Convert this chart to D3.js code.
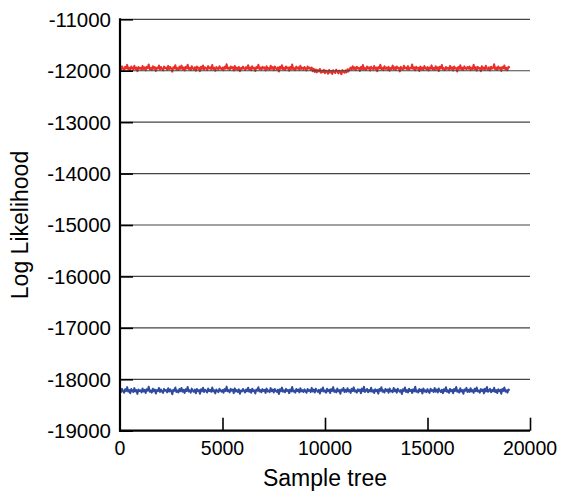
<!DOCTYPE html>
<html>
<head>
<meta charset="utf-8">
<script src="https://cdn.jsdelivr.net/npm/d3@7"></script>
<style>
  body { margin: 0; background: #fff; }
  svg text { font-family: 'Liberation Sans', Arial, sans-serif; fill: #000; }
</style>
</head>
<body>
<script>
const SVG_DIM = {W: 562, H: 492};
const MARGIN = {left: 120, right: 32, top: 19.3, bottom: 61.3};

// sample tree index step between stored points
const SAMPLE_STEP = 50;

const xTicks = [0, 5000, 10000, 15000, 20000];
const yTicks = [-19000, -18000, -17000, -16000, -15000, -14000, -13000, -12000, -11000];

// red run (every 50th sample, one row per 1000 samples)
const redRun = [
  -11932,-11978,-11915,-11961,-11990,-11924,-11957,-11886,-11970,-11941,-11998,-11919,-11953,-11975,-11903,-11966,-11938,-12012,-11927,-11959,
  -11944,-11981,-11909,-11968,-11935,-11993,-11921,-11950,-11877,-11972,-11946,-11987,-11914,-11963,-11930,-12005,-11942,-11958,-11899,-11976,
  -11928,-11965,-11994,-11917,-11952,-11939,-11983,-11906,-11969,-11926,-11960,-12018,-11933,-11955,-11892,-11979,-11947,-11986,-11920,-11962,
  -11901,-11971,-11937,-11996,-11925,-11957,-11882,-11967,-11943,-11989,-11912,-11954,-11975,-11931,-11999,-11918,-11961,-11940,-12008,-11923,
  -11964,-11897,-11977,-11934,-11951,-11988,-11910,-11958,-11936,-11973,-11889,-11966,-11945,-12002,-11929,-11956,-11980,-11913,-11949,-11971,
  -11938,-11992,-11921,-11959,-11874,-11963,-11942,-11984,-11916,-11953,-11931,-11997,-11907,-11968,-11940,-11977,-11926,-12011,-11948,-11965,
  -11919,-11955,-11986,-11930,-11962,-11895,-11974,-11937,-11991,-11914,-11960,-11944,-12006,-11927,-11952,-11885,-11969,-11939,-11982,-11922,
  -11958,-11935,-11995,-11911,-11967,-11947,-11979,-11902,-11963,-11929,-11988,-11918,-11954,-11976,-11934,-12014,-11924,-11961,-11893,-11972,
  -11945,-11983,-11916,-11957,-11938,-12000,-11927,-11966,-11880,-11970,-11949,-11990,-11920,-11959,-11932,-11985,-11905,-11964,-11942,-11978,
  -11926,-11962,-11993,-11918,-11955,-11940,-11980,-11937,-12010,-11961,-12024,-11975,-12032,-11988,-12015,-11966,-12041,-11994,-12028,-11982,
  -12049,-11996,-12020,-12058,-11985,-12036,-12005,-12063,-11990,-12027,-12044,-11979,-12012,-12052,-11998,-12030,-12068,-11988,-12022,-12040,
  -11993,-12034,-11971,-12015,-11962,-11938,-11981,-11912,-11966,-11934,-11989,-11921,-11957,-11944,-12003,-11928,-11969,-11890,-11975,-11947,
  -11984,-11917,-11960,-11935,-11995,-11923,-11951,-11973,-11908,-11967,-11939,-12009,-11930,-11956,-11883,-11970,-11943,-11988,-11914,-11963,
  -11936,-11978,-11922,-11999,-11948,-11965,-11900,-11972,-11931,-11986,-11919,-11954,-11941,-12013,-11925,-11961,-11978,-11904,-11958,-11937,
  -11969,-11911,-11982,-11946,-11955,-11879,-11968,-11933,-11992,-11924,-11960,-11942,-12004,-11916,-11971,-11938,-11985,-11909,-11953,-11974,
  -11929,-11997,-11940,-11962,-11896,-11977,-11945,-11983,-11913,-11966,-11932,-12007,-11921,-11956,-11887,-11974,-11950,-11990,-11927,-11964,
  -11943,-11981,-11906,-11967,-11935,-11996,-11919,-11958,-11948,-12016,-11929,-11963,-11894,-11979,-11939,-11987,-11915,-11952,-11971,-11928,
  -11960,-11918,-11989,-11942,-11968,-11884,-11973,-11931,-11998,-11925,-11957,-11946,-12010,-11912,-11966,-11937,-11982,-11903,-11959,-11980,
  -11934,-11994,-11923,-11961,-11947,-11875,-11970,-11940,-11986,-11916,-11962,-11938,-12003,-11928,-11955,-11897,-11976,-11944,-11991,-11921,
  -11950
];

// blue run (every 50th sample, one row per 1000 samples)
const blueRun = [
  -18204,-18247,-18186,-18231,-18262,-18195,-18226,-18153,-18240,-18212,-18271,-18189,-18223,-18248,-18172,-18236,-18208,-18284,-18197,-18229,
  -18214,-18255,-18179,-18238,-18205,-18266,-18192,-18220,-18146,-18243,-18217,-18259,-18184,-18233,-18200,-18277,-18211,-18228,-18168,-18246,
  -18198,-18235,-18264,-18187,-18222,-18209,-18253,-18176,-18239,-18196,-18230,-18290,-18203,-18225,-18161,-18249,-18217,-18256,-18190,-18232,
  -18171,-18241,-18207,-18268,-18195,-18227,-18151,-18237,-18213,-18259,-18182,-18224,-18245,-18201,-18272,-18188,-18231,-18210,-18280,-18193,
  -18234,-18166,-18247,-18204,-18221,-18258,-18180,-18228,-18206,-18243,-18158,-18236,-18215,-18274,-18199,-18226,-18250,-18183,-18219,-18241,
  -18208,-18262,-18191,-18229,-18143,-18233,-18212,-18254,-18186,-18223,-18201,-18269,-18177,-18238,-18210,-18247,-18196,-18283,-18218,-18235,
  -18189,-18225,-18256,-18200,-18232,-18164,-18244,-18207,-18261,-18184,-18230,-18214,-18278,-18197,-18222,-18155,-18239,-18209,-18252,-18192,
  -18228,-18205,-18265,-18181,-18237,-18217,-18249,-18172,-18233,-18199,-18258,-18188,-18224,-18246,-18204,-18286,-18194,-18231,-18162,-18242,
  -18215,-18253,-18186,-18227,-18208,-18270,-18197,-18236,-18149,-18240,-18219,-18260,-18190,-18229,-18202,-18255,-18175,-18234,-18212,-18248,
  -18196,-18232,-18263,-18188,-18225,-18210,-18250,-18167,-18238,-18201,-18257,-18183,-18222,-18244,-18206,-18275,-18193,-18230,-18159,-18240,
  -18218,-18261,-18185,-18234,-18203,-18267,-18191,-18227,-18152,-18245,-18213,-18254,-18179,-18236,-18209,-18281,-18198,-18223,-18170,-18250,
  -18204,-18243,-18174,-18237,-18211,-18265,-18187,-18229,-18157,-18239,-18216,-18259,-18194,-18226,-18200,-18273,-18182,-18233,-18147,-18247,
  -18221,-18188,-18252,-18207,-18235,-18163,-18244,-18212,-18266,-18195,-18230,-18205,-18279,-18190,-18224,-18154,-18241,-18214,-18257,-18186,
  -18226,-18199,-18263,-18178,-18237,-18219,-18251,-18168,-18232,-18202,-18260,-18185,-18220,-18242,-18209,-18288,-18193,-18228,-18160,-18246,
  -18211,-18255,-18183,-18229,-18206,-18268,-18196,-18235,-18145,-18243,-18217,-18258,-18189,-18231,-18201,-18276,-18180,-18238,-18213,-18252,
  -18192,-18236,-18264,-18184,-18227,-18208,-18248,-18171,-18240,-18199,-18256,-18181,-18225,-18247,-18203,-18270,-18195,-18232,-18156,-18244,
  -18216,-18262,-18187,-18233,-18205,-18271,-18190,-18226,-18150,-18241,-18214,-18257,-18176,-18237,-18210,-18282,-18197,-18224,-18167,-18249,
  -18203,-18245,-18173,-18235,-18212,-18263,-18185,-18230,-18161,-18238,-18219,-18260,-18191,-18228,-18198,-18274,-18183,-18236,-18150,-18243,
  -18222,-18187,-18254,-18209,-18233,-18165,-18246,-18211,-18267,-18194,-18231,-18206,-18280,-18189,-18225,-18158,-18240,-18215,-18259,-18197,
  -18220
];

const RUNS = [
  {name: 'red', values: redRun, color: '#e8302a'},
  {name: 'blue', values: blueRun, color: '#2f4a9e'}
];

const svg = d3.select('body')
    .append('svg')
    .attr('width', SVG_DIM.W)
    .attr('height', SVG_DIM.H);

const x = d3.scaleLinear()
    .domain([0, 20000])
    .range([MARGIN.left, SVG_DIM.W - MARGIN.right]);

const y = d3.scaleLinear()
    .domain([-19000, -11000])
    .range([SVG_DIM.H - MARGIN.bottom, MARGIN.top]);

// lines
const line = d3.line()
    .x((d, i) => x(i * SAMPLE_STEP))
    .y(d => y(d));

svg.selectAll('.run')
    .data(RUNS)
    .enter()
    .append('path')
    .attr('class', 'run')
    .attr('fill', 'none')
    .attr('stroke', d => d.color)
    .attr('stroke-width', 2)
    .attr('stroke-linejoin', 'round')
    .attr('d', d => line(d.values));

// gridlines
svg.append('g')
    .selectAll('line')
    .data(yTicks.slice(1))
    .enter()
    .append('line')
    .attr('x1', x(0))
    .attr('x2', x(20000))
    .attr('y1', d => y(d))
    .attr('y2', d => y(d))
    .attr('stroke', '#444')
    .attr('stroke-width', 1.2);

// y axis, ticks pointing inward
const yAxis = svg.append('g')
    .attr('transform', `translate(${x(0)},0)`)
    .call(d3.axisRight(y).tickValues(yTicks).tickSize(13).tickFormat(''));

yAxis.select('.domain').remove();
yAxis.selectAll('line').attr('stroke', '#000').attr('stroke-width', 1.6);

svg.append('g')
    .selectAll('text')
    .data(yTicks)
    .enter()
    .append('text')
    .attr('x', x(0) - 9)
    .attr('y', d => y(d))
    .attr('dy', '0.36em')
    .attr('text-anchor', 'end')
    .style('font-size', '20.5px')
    .text(d => d);

// x axis, ticks pointing up
const xAxis = svg.append('g')
    .attr('transform', `translate(0,${y(-19000)})`)
    .call(d3.axisTop(x).tickValues(xTicks.slice(1)).tickSize(13).tickFormat(''));

xAxis.select('.domain').remove();
xAxis.selectAll('line').attr('stroke', '#000').attr('stroke-width', 1.6);

svg.append('g')
    .selectAll('text')
    .data(xTicks)
    .enter()
    .append('text')
    .attr('x', d => x(d))
    .attr('y', y(-19000) + 24)
    .attr('text-anchor', 'middle')
    .style('font-size', '19.5px')
    .text(d => d);

// axis lines
svg.append('line')
    .attr('x1', x(0)).attr('x2', x(0))
    .attr('y1', y(-11000) - 1).attr('y2', y(-19000) + 1)
    .attr('stroke', '#000')
    .attr('stroke-width', 2.2);

svg.append('line')
    .attr('x1', x(0) - 1).attr('x2', x(20000))
    .attr('y1', y(-19000)).attr('y2', y(-19000))
    .attr('stroke', '#000')
    .attr('stroke-width', 2.2);

// axis titles
svg.append('text')
    .attr('x', (x(0) + x(20000)) / 2)
    .attr('y', 486)
    .attr('text-anchor', 'middle')
    .style('font-size', '23px')
    .text('Sample tree');

svg.append('text')
    .attr('transform', `translate(28,${(y(-11000) + y(-19000)) / 2}) rotate(-90)`)
    .attr('text-anchor', 'middle')
    .style('font-size', '23px')
    .text('Log Likelihood');
</script>
</body>
</html>
